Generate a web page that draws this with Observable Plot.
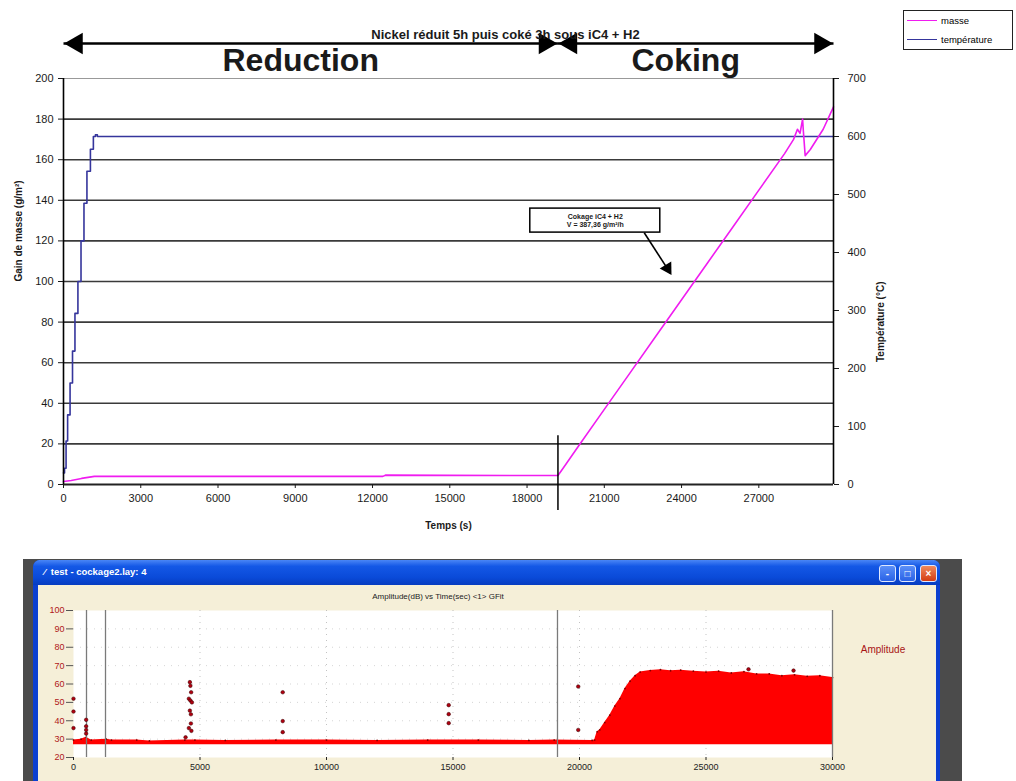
<!DOCTYPE html>
<html>
<head>
<meta charset="utf-8">
<script src="https://cdn.jsdelivr.net/npm/d3@7"></script>
<script src="https://cdn.jsdelivr.net/npm/@observablehq/plot@0.6"></script>
<style>
  body { margin: 0; background: #fff; }
  #page { position: relative; width: 1016px; height: 781px; overflow: hidden; font-family: "Liberation Sans", Arial, sans-serif; }
  .abs { position: absolute; }
  #legend { left: 903px; top: 10px; width: 110px; height: 40px; border: 1px solid #222; background: #fff; box-sizing: border-box; font-size: 9.5px; color: #000; }
  #legend .row { display: flex; align-items: center; height: 19px; padding-left: 3px; }
  #legend .sw { width: 30px; height: 0; border-top: 1.5px solid; margin-right: 4px; }
  #shadow { left: 23px; top: 559px; width: 939px; height: 240px; background: #4b4b4b; }
  #win { left: 33px; top: 560px; width: 907px; height: 240px; background: #f5efd8; border-left: 5px solid #0b3fd0; border-right: 4px solid #0b3fd0; box-sizing: border-box; border-radius: 7px 7px 0 0; }
  #titlebar { left: 33px; top: 560px; width: 907px; height: 25px; border-radius: 7px 7px 0 0;
    background: linear-gradient(#4a86f6 0%, #1458e6 25%, #0a4ad8 70%, #063cc0 100%); }
  #wintitle { left: 44px; top: 566px; color: #fff; font-size: 9.5px; font-weight: bold; white-space: pre; }
  .btn { top: 565px; width: 17px; height: 17px; border: 1px solid #dfe8ff; border-radius: 3px; box-sizing: border-box; }
  #bmin { left: 879px; background: linear-gradient(#5b8ff8, #2a62e6); }
  #bmax { left: 899px; background: linear-gradient(#5b8ff8, #2a62e6); }
  #bclose { left: 920px; background: linear-gradient(#f08a5c, #d43c14); }
  .glyph { position: absolute; left: 0; right: 0; text-align: center; color: #fff; font-weight: bold; font-size: 10px; line-height: 15px; }
  #amplab { left: 850px; top: 644px; width: 66px; text-align: center; color: #a81414; font-size: 10px; }
</style>
</head>
<body>
<div id="page">
  <div id="topchart" class="abs" style="left:0;top:0"></div>
  <div id="legend" class="abs"></div>
  <div id="shadow" class="abs"></div>
  <div id="win" class="abs"></div>
  <div id="titlebar" class="abs"></div>
  <div id="wintitle" class="abs"></div>
  <div id="bmin" class="abs btn"><div class="glyph">-</div></div>
  <div id="bmax" class="abs btn"><div class="glyph">□</div></div>
  <div id="bclose" class="abs btn"><div class="glyph">×</div></div>
  <div id="amplab" class="abs"></div>
  <div id="bottomchart" class="abs" style="left:0;top:590px"></div>
</div>
<script>
// ================= TOP CHART DATA =================
const chartTitle = "Nickel réduit 5h puis coké 3h sous iC4 + H2";
const yLabel = "Gain de masse (g/m²)";
const y2Label = "Température (°C)";
const xLabel = "Temps (s)";

const phaseNames = ["Reduction", "Coking"];
const phaseStart = [0, 19200];
const phaseEnd = [19200, 29900];

// masse (g/m²) vs time (s)
const massT = [0, 300, 700, 1200, 5000, 12400, 12500, 19200, 19400, 20000, 21000, 22000, 23000, 24000, 25000, 26000, 27000, 28000, 28350, 28500, 28600, 28700, 28730, 28800, 29000, 29500, 29900];
const massV = [1.5, 2, 3, 4, 4, 4, 4.6, 4.4, 8, 19, 37, 55, 73, 91, 109, 127, 145, 163, 170, 175, 173, 180, 174, 162, 165, 175, 186];

// température (°C) vs time (s)
const tempT = [0, 80, 120, 200, 310, 390, 500, 620, 740, 850, 970, 1120, 1200, 1280, 1350, 29900];
const tempV = [20, 28, 75, 120, 175, 230, 295, 350, 420, 485, 540, 578, 600, 603, 600, 600];

const massTicks = [0, 20, 40, 60, 80, 100, 120, 140, 160, 180, 200];
const tempTicks = [0, 100, 200, 300, 400, 500, 600, 700];
const timeTicks = [0, 3000, 6000, 9000, 12000, 15000, 18000, 21000, 24000, 27000];

const seriesNames = ["masse", "température"];
const seriesColors = ["#f01cf0", "#35359c"];

// annotation (data coordinates: time, masse)
const noteText = "Cokage iC4 + H2\nV = 387,36 g/m²/h";
const noteAt = {t: 20650, v: 130};
const noteArrow = {t1: 22550, v1: 124, t2: 23570, v2: 104};

// ================= BOTTOM CHART DATA =================
const winTitle = "⁄  test - cockage2.lay: 4";
const ampTitle = "Amplitude(dB) vs Time(sec) <1> GFit";
const ampLegend = "Amplitude";
const ampFloor = 27;
const envT = [0, 300, 500, 700, 1300, 1500, 2500, 3000, 4400, 4800, 6000, 8000, 10000, 12000, 14000, 16000, 18000, 19000, 20500, 20600, 20700, 20800, 21000, 21200, 21400, 21600, 21800, 22000, 22200, 22400, 22800, 23200, 23600, 24000, 24500, 25000, 25500, 26000, 26500, 27000, 27500, 28000, 28500, 29000, 29500, 30000];
const envA = [29.5, 30, 31, 29.5, 30, 29.5, 29.5, 29, 29.5, 29.5, 29.3, 29.5, 29.5, 29.3, 29.5, 29.5, 29.3, 29.5, 29.3, 29.5, 34, 35, 39, 43, 48, 52, 57.5, 61.5, 64.5, 66.5, 67.3, 67.8, 67.2, 67.5, 67, 66.5, 67, 66, 66.7, 65.5, 65.5, 64.5, 65, 64.2, 64.5, 63.5];
const outT = [0, 0, 0, 500, 500, 500, 500, 4430, 4600, 4620, 4650, 4560, 4620, 4680, 4600, 4640, 4640, 4560, 4660, 8270, 8270, 8270, 14830, 14830, 14830, 19950, 19950, 26680, 28460];
const outA = [52, 45, 36, 40.5, 37, 35, 33, 31, 61, 59, 55.5, 52, 51, 50, 45.5, 43.5, 38.5, 36, 34.5, 55.5, 39.8, 33.8, 48.5, 43.6, 38.7, 58.6, 35, 68, 67.3];
const eventT = [514, 1265, 19130];
const ampTicks = [20, 30, 40, 50, 60, 70, 80, 90, 100];
const ampTimeTicks = [0, 5000, 10000, 15000, 20000, 25000, 30000];

// ================= BUILD =================
(function () {
const FONT = '"Liberation Sans", Arial, sans-serif';
const toLeft = v => v * 200 / 700;
const fromLeft = v => v * 700 / 200;

const mass = massT.map((t, i) => ({t, v: massV[i]}));
const temp = tempT.map((t, i) => ({t, v: tempV[i]}));
const phases = phaseNames.map((name, i) => ({name, start: phaseStart[i], end: phaseEnd[i]}));
const yTop = massTicks[massTicks.length - 1];
const massGrid = massTicks.slice(1, -1);
const note = {...noteAt, text: noteText, ...noteArrow};

const topPlot = Plot.plot({
  width: 1016, height: 545,
  marginLeft: 63, marginRight: 183, marginTop: 78, marginBottom: 61,
  x: {domain: [0, 29900]},
  y: {domain: [0, 200]},
  style: {fontFamily: FONT, fontSize: "11px", color: "#1a1a1a", background: "transparent", overflow: "visible"},
  marks: [
    Plot.ruleY(massGrid, {stroke: "#3a3a3a", strokeWidth: 1.6}),
    Plot.ruleY([yTop], {stroke: "#999", strokeWidth: 1.2}),
    Plot.line(temp, {x: "t", y: d => toLeft(d.v), stroke: seriesColors[1], strokeWidth: 1.6, curve: "step"}),
    Plot.line(mass, {x: "t", y: "v", stroke: seriesColors[0], strokeWidth: 1.6}),
    Plot.ruleY([0], {stroke: "#222", strokeWidth: 2}),
    Plot.ruleX([0], {stroke: "#000", strokeWidth: 1.6}),
    Plot.ruleX([29900], {stroke: "#000", strokeWidth: 1.6}),
    Plot.ruleX([phaseStart[1]], {y1: 24, y2: 0, insetBottom: -26, stroke: "#000", strokeWidth: 1.5}),
    Plot.axisY(massTicks, {anchor: "left", tickSize: 5, tickPadding: 5, tickFormat: d => String(d), label: null}),
    Plot.axisY(tempTicks.map(toLeft), {anchor: "right", tickSize: 5, tickPadding: 9, tickFormat: d => String(Math.round(fromLeft(d))), label: null}),
    Plot.axisX(timeTicks, {anchor: "bottom", tickSize: 4, tickPadding: 6, tickFormat: d => String(d), label: null}),
    Plot.text([yLabel], {text: d => d, frameAnchor: "left", rotate: -90, dx: -45, fontWeight: "bold", fontSize: 10}),
    Plot.text([y2Label], {text: d => d, frameAnchor: "right", rotate: -90, dx: 47, fontWeight: "bold", fontSize: 10}),
    Plot.text([xLabel], {text: d => d, frameAnchor: "bottom", lineAnchor: "middle", dy: 41, fontWeight: "bold", fontSize: 10}),
    // header arrows and phase names
    Plot.link(phases, {x1: "start", x2: "end", y1: yTop, y2: yTop, dy: -35, stroke: "#000", strokeWidth: 2.6}),
    Plot.dot(phases, {x: "start", y: yTop, dy: -35, dx: 13, symbol: "triangle", rotate: -90, r: 8, fill: "#000", stroke: null}),
    Plot.dot(phases, {x: "end", y: yTop, dy: -35, dx: -13, symbol: "triangle", rotate: 90, r: 8, fill: "#000", stroke: null}),
    Plot.text(phases, {x: d => (d.start + d.end) / 2, y: yTop, dy: -18, dx: -10, text: "name", fontSize: 32, fontWeight: "bold"}),
    Plot.text([chartTitle], {text: d => d, frameAnchor: "top", lineAnchor: "middle", dx: 57, dy: -44, fontWeight: "bold", fontSize: 13}),
    // annotation
    Plot.rect([note], {x1: "t", x2: "t", y1: "v", y2: "v", insetLeft: -65, insetRight: -65, insetTop: -12, insetBottom: -12, fill: "white", stroke: "#000", strokeWidth: 1.5}),
    Plot.text([note], {x: "t", y: "v", text: "text", fontSize: 7, fontWeight: "bold", lineHeight: 1.15}),
    Plot.link([note], {x1: "t1", y1: "v1", x2: "t2", y2: "v2", stroke: "#000", strokeWidth: 1.6}),
    Plot.dot([note], {x: "t2", y: "v2", symbol: "triangle", rotate: 149, r: 5, dx: -3, dy: -5, fill: "#000", stroke: null})
  ]
});
document.getElementById("topchart").appendChild(topPlot);

// legend
const leg = document.getElementById("legend");
seriesNames.forEach((n, i) => {
  const row = document.createElement("div");
  row.className = "row";
  const sw = document.createElement("div");
  sw.className = "sw";
  sw.style.borderTopColor = seriesColors[i];
  const tx = document.createElement("span");
  tx.textContent = n;
  row.appendChild(sw); row.appendChild(tx);
  leg.appendChild(row);
});

document.getElementById("wintitle").textContent = winTitle;
document.getElementById("amplab").textContent = ampLegend;

const env = envT.map((t, i) => ({t, a: envA[i]}));
const outliers = outT.map((t, i) => ({t, a: outA[i]}));

const bottomPlot = Plot.plot({
  width: 1016, height: 191,
  marginLeft: 73, marginRight: 184, marginTop: 20, marginBottom: 24,
  x: {domain: [0, 30000]},
  y: {domain: [20, 100]},
  style: {fontFamily: FONT, fontSize: "9px", color: "#222", background: "transparent", overflow: "visible"},
  marks: [
    Plot.frame({fill: "white", stroke: null}),
    Plot.gridX(ampTimeTicks.slice(1, -1), {stroke: "#888", strokeDasharray: "1,5", strokeOpacity: 0.5}),
    Plot.gridY(ampTicks.slice(1, -1), {stroke: "#888", strokeDasharray: "1,6", strokeOpacity: 0.35}),
    Plot.areaY(env, {x: "t", y1: ampFloor, y2: "a", fill: "#ff0000"}),
    Plot.dot(env, {x: "t", y: "a", r: 0.9, fill: "#800000", stroke: null}),
    Plot.ruleX(eventT, {stroke: "#7a7a7a", strokeWidth: 1.3}),
    Plot.ruleX([30000], {stroke: "#7a7a7a", strokeWidth: 1.3}),
    Plot.dot(outliers, {x: "t", y: "a", r: 1.8, fill: "#b00010", stroke: "#300", strokeWidth: 0.5}),
    Plot.axisY(ampTicks, {anchor: "left", tickSize: 7, tickPadding: 2, tickFormat: d => String(d), fill: "#b01818", stroke: "#555", label: null}),
    Plot.axisX(ampTimeTicks, {anchor: "bottom", tickSize: 3, tickPadding: 3, tickFormat: d => String(d), fill: "#222", label: null}),
    Plot.text([ampTitle], {text: d => d, frameAnchor: "top", lineAnchor: "middle", dy: -14, dx: -15, fontSize: 8})
  ]
});
document.getElementById("bottomchart").appendChild(bottomPlot);
})();
</script>
</body>
</html>
